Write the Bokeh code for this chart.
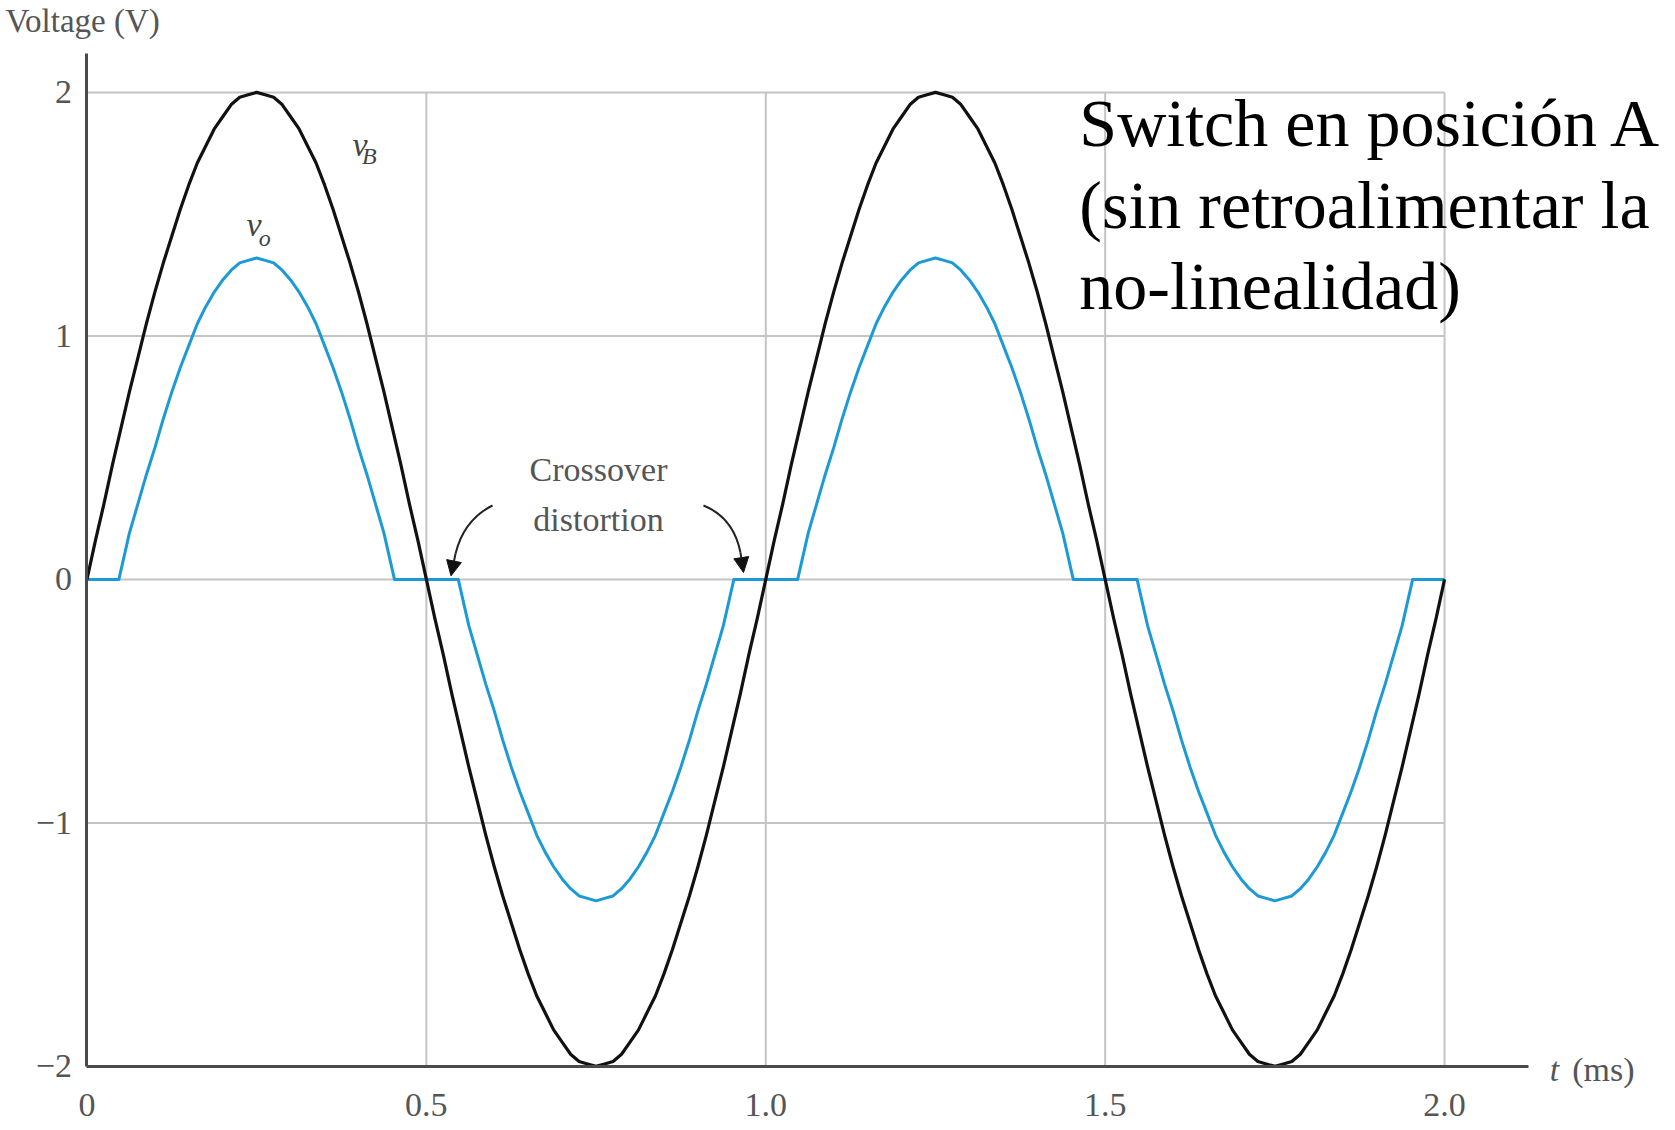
from bokeh.plotting import figure
from bokeh.models import FixedTicker, Label, Arrow, NormalHead
from bokeh.embed import file_html
from bokeh.resources import INLINE

# ---------------- data ----------------
# v_B (black), sampled every 0.0125 ms
t_vb = [0.0, 0.0125, 0.025, 0.0375, 0.05, 0.0625, 0.075, 0.0875, 0.1, 0.1125,
        0.125, 0.1375, 0.15, 0.1625, 0.175, 0.1875, 0.2, 0.2125, 0.225, 0.2375,
        0.25, 0.2625, 0.275, 0.2875, 0.3, 0.3125, 0.325, 0.3375, 0.35, 0.3625,
        0.375, 0.3875, 0.4, 0.4125, 0.425, 0.4375, 0.45, 0.4625, 0.475, 0.4875,
        0.5, 0.5125, 0.525, 0.5375, 0.55, 0.5625, 0.575, 0.5875, 0.6, 0.6125,
        0.625, 0.6375, 0.65, 0.6625, 0.675, 0.6875, 0.7, 0.7125, 0.725, 0.7375,
        0.75, 0.7625, 0.775, 0.7875, 0.8, 0.8125, 0.825, 0.8375, 0.85, 0.8625,
        0.875, 0.8875, 0.9, 0.9125, 0.925, 0.9375, 0.95, 0.9625, 0.975, 0.9875,
        1.0, 1.0125, 1.025, 1.0375, 1.05, 1.0625, 1.075, 1.0875, 1.1, 1.1125,
        1.125, 1.1375, 1.15, 1.1625, 1.175, 1.1875, 1.2, 1.2125, 1.225, 1.2375,
        1.25, 1.2625, 1.275, 1.2875, 1.3, 1.3125, 1.325, 1.3375, 1.35, 1.3625,
        1.375, 1.3875, 1.4, 1.4125, 1.425, 1.4375, 1.45, 1.4625, 1.475, 1.4875,
        1.5, 1.5125, 1.525, 1.5375, 1.55, 1.5625, 1.575, 1.5875, 1.6, 1.6125,
        1.625, 1.6375, 1.65, 1.6625, 1.675, 1.6875, 1.7, 1.7125, 1.725, 1.7375,
        1.75, 1.7625, 1.775, 1.7875, 1.8, 1.8125, 1.825, 1.8375, 1.85, 1.8625,
        1.875, 1.8875, 1.9, 1.9125, 1.925, 1.9375, 1.95, 1.9625, 1.975, 1.9875,
        2.0]
v_b = [0.0, 0.16, 0.31, 0.47, 0.62, 0.77, 0.91, 1.05, 1.18, 1.30,
       1.41, 1.52, 1.62, 1.71, 1.78, 1.85, 1.90, 1.95, 1.98, 1.99,
       2.00, 1.99, 1.98, 1.95, 1.90, 1.85, 1.78, 1.71, 1.62, 1.52,
       1.41, 1.30, 1.18, 1.05, 0.91, 0.77, 0.62, 0.47, 0.31, 0.16,
       0.0, -0.16, -0.31, -0.47, -0.62, -0.77, -0.91, -1.05, -1.18, -1.30,
       -1.41, -1.52, -1.62, -1.71, -1.78, -1.85, -1.90, -1.95, -1.98, -1.99,
       -2.00, -1.99, -1.98, -1.95, -1.90, -1.85, -1.78, -1.71, -1.62, -1.52,
       -1.41, -1.30, -1.18, -1.05, -0.91, -0.77, -0.62, -0.47, -0.31, -0.16,
       0.0, 0.16, 0.31, 0.47, 0.62, 0.77, 0.91, 1.05, 1.18, 1.30,
       1.41, 1.52, 1.62, 1.71, 1.78, 1.85, 1.90, 1.95, 1.98, 1.99,
       2.00, 1.99, 1.98, 1.95, 1.90, 1.85, 1.78, 1.71, 1.62, 1.52,
       1.41, 1.30, 1.18, 1.05, 0.91, 0.77, 0.62, 0.47, 0.31, 0.16,
       0.0, -0.16, -0.31, -0.47, -0.62, -0.77, -0.91, -1.05, -1.18, -1.30,
       -1.41, -1.52, -1.62, -1.71, -1.78, -1.85, -1.90, -1.95, -1.98, -1.99,
       -2.00, -1.99, -1.98, -1.95, -1.90, -1.85, -1.78, -1.71, -1.62, -1.52,
       -1.41, -1.30, -1.18, -1.05, -0.91, -0.77, -0.62, -0.47, -0.31, -0.16,
       0.0]

# v_O (blue), with the flat crossover-distortion zones
t_vo = [0.0,
        0.047, 0.0625, 0.075, 0.0875, 0.1, 0.1125, 0.125, 0.1375, 0.15, 0.1625, 0.175,
        0.1875, 0.2, 0.2125, 0.225, 0.2375, 0.25, 0.2625, 0.275, 0.2875, 0.3, 0.3125,
        0.325, 0.3375, 0.35, 0.3625, 0.375, 0.3875, 0.4, 0.4125, 0.425, 0.4375, 0.453,
        0.547, 0.5625, 0.575, 0.5875, 0.6, 0.6125, 0.625, 0.6375, 0.65, 0.6625, 0.675,
        0.6875, 0.7, 0.7125, 0.725, 0.7375, 0.75, 0.7625, 0.775, 0.7875, 0.8, 0.8125,
        0.825, 0.8375, 0.85, 0.8625, 0.875, 0.8875, 0.9, 0.9125, 0.925, 0.9375, 0.953,
        1.047, 1.0625, 1.075, 1.0875, 1.1, 1.1125, 1.125, 1.1375, 1.15, 1.1625, 1.175,
        1.1875, 1.2, 1.2125, 1.225, 1.2375, 1.25, 1.2625, 1.275, 1.2875, 1.3, 1.3125,
        1.325, 1.3375, 1.35, 1.3625, 1.375, 1.3875, 1.4, 1.4125, 1.425, 1.4375, 1.453,
        1.547, 1.5625, 1.575, 1.5875, 1.6, 1.6125, 1.625, 1.6375, 1.65, 1.6625, 1.675,
        1.6875, 1.7, 1.7125, 1.725, 1.7375, 1.75, 1.7625, 1.775, 1.7875, 1.8, 1.8125,
        1.825, 1.8375, 1.85, 1.8625, 1.875, 1.8875, 1.9, 1.9125, 1.925, 1.9375, 1.953,
        2.0]
v_o = [0.0,
       0.0, 0.19, 0.31, 0.43, 0.54, 0.66, 0.77, 0.87, 0.96, 1.05, 1.12,
       1.18, 1.23, 1.27, 1.30, 1.31, 1.32, 1.31, 1.30, 1.27, 1.23, 1.18,
       1.12, 1.05, 0.96, 0.87, 0.77, 0.66, 0.54, 0.43, 0.31, 0.19, 0.0,
       0.0, -0.19, -0.31, -0.43, -0.54, -0.66, -0.77, -0.87, -0.96, -1.05, -1.12,
       -1.18, -1.23, -1.27, -1.30, -1.31, -1.32, -1.31, -1.30, -1.27, -1.23, -1.18,
       -1.12, -1.05, -0.96, -0.87, -0.77, -0.66, -0.54, -0.43, -0.31, -0.19, 0.0,
       0.0, 0.19, 0.31, 0.43, 0.54, 0.66, 0.77, 0.87, 0.96, 1.05, 1.12,
       1.18, 1.23, 1.27, 1.30, 1.31, 1.32, 1.31, 1.30, 1.27, 1.23, 1.18,
       1.12, 1.05, 0.96, 0.87, 0.77, 0.66, 0.54, 0.43, 0.31, 0.19, 0.0,
       0.0, -0.19, -0.31, -0.43, -0.54, -0.66, -0.77, -0.87, -0.96, -1.05, -1.12,
       -1.18, -1.23, -1.27, -1.30, -1.31, -1.32, -1.31, -1.30, -1.27, -1.23, -1.18,
       -1.12, -1.05, -0.96, -0.87, -0.77, -0.66, -0.54, -0.43, -0.31, -0.19, 0.0,
       0.0]

x_ticks = [0, 0.5, 1.0, 1.5, 2.0]
x_tick_labels = ["0", "0.5", "1.0", "1.5", "2.0"]
y_ticks = [-2, -1, 0, 1, 2]
y_tick_labels = ["\u22122", "\u22121", "0", "1", "2"]

# annotation anchors (data units)
vb_label_pos = (0.391, 1.785)
vb_sub_pos = (0.405, 1.737)
vo_label_pos = (0.235, 1.456)
vo_sub_pos = (0.253, 1.403)
crossover_pos = (0.7536, 0.450, 0.245)
arrow_left = dict(p0=(0.5974, 0.3035), c=(0.5552, 0.2448), p2=(0.5429, 0.1052), tip=(0.5363, 0.0148))
arrow_right = dict(p0=(0.9082, 0.3035), c=(0.9524, 0.2542), p2=(0.9627, 0.1105), tip=(0.9672, 0.0283))
switch_lines = ["Switch en posición A", "(sin retroalimentar la", "no-linealidad)"]
switch_x = 1.462
switch_y = [1.874, 1.537, 1.204]

SERIF = "Liberation Serif"
GRAY = "#555555"

p = figure(width=1672, height=1127,
           x_range=(-0.1274, 2.3358), y_range=(-2.2509, 2.3774),
           min_border=0, min_border_left=0, min_border_right=0,
           min_border_top=0, min_border_bottom=0,
           output_backend="svg", toolbar_location=None)
p.outline_line_color = None
p.xgrid.visible = False
p.ygrid.visible = False
p.background_fill_color = "white"
p.border_fill_color = "white"

# grid lines (only inside the 0..2 ms, -2..2 V box)
gx = x_ticks[1:]
gy = y_ticks[1:]
p.segment(x0=gx, y0=[y_ticks[0]] * len(gx), x1=gx, y1=[y_ticks[-1]] * len(gx),
          line_color="#c4c4c4", line_width=2)
p.segment(x0=[x_ticks[0]] * len(gy), y0=gy, x1=[x_ticks[-1]] * len(gy), y1=gy,
          line_color="#c4c4c4", line_width=2)

# curves
p.line(t_vo, v_o, line_color="#1B9AD6", line_width=3, line_join="round")
p.line(t_vb, v_b, line_color="#111111", line_width=3.2, line_join="round")

# axes drawn at fixed data locations, inside the full-canvas frame
for ax in (p.xaxis[0], p.yaxis[0]):
    ax.axis_line_color = "#4a4a4a"
    ax.axis_line_width = 3
    ax.major_tick_line_color = None
    ax.minor_tick_line_color = None
    ax.major_label_text_font = SERIF
    ax.major_label_text_font_size = "34px"
    ax.major_label_text_color = GRAY

p.xaxis.ticker = FixedTicker(ticks=x_ticks)
p.xaxis.major_label_overrides = dict(zip(x_ticks, x_tick_labels))
p.xaxis.bounds = (0, 2.124)
p.xaxis.fixed_location = y_ticks[0]
p.xaxis.major_label_standoff = 22
p.yaxis.ticker = FixedTicker(ticks=y_ticks)
p.yaxis.major_label_overrides = dict(zip(y_ticks, y_tick_labels))
p.yaxis.bounds = (-2, 2.16)
p.yaxis.fixed_location = x_ticks[0]
p.yaxis.major_label_standoff = 9


def lab(x, y, text, size="34px", color=GRAY, style="normal", align="left"):
    p.add_layout(Label(x=x, y=y, text=text, text_font=SERIF, text_font_size=size,
                       text_color=color, text_font_style=style, text_align=align,
                       text_baseline="alphabetic"))


# axis titles
lab(-0.12, 2.292, "Voltage (V)", size="33px")
lab(2.155, -2.012, "t", style="italic")
lab(2.188, -2.012, "(ms)")

# curve names
lab(vb_label_pos[0], vb_label_pos[1], "v", style="italic", color="#444444")
lab(vb_sub_pos[0], vb_sub_pos[1], "B", size="24px", style="italic", color="#444444")
lab(vo_label_pos[0], vo_label_pos[1], "v", style="italic", color="#444444")
lab(vo_sub_pos[0], vo_sub_pos[1], "o", size="24px", style="italic", color="#444444")

# crossover annotation
lab(crossover_pos[0], crossover_pos[1], "Crossover", align="center")
lab(crossover_pos[0], crossover_pos[2], "distortion", align="center")
for a in (arrow_left, arrow_right):
    p.quadratic(x0=[a["p0"][0]], y0=[a["p0"][1]], x1=[a["p2"][0]], y1=[a["p2"][1]],
                cx=[a["c"][0]], cy=[a["c"][1]], line_color="#222222", line_width=2)
    p.add_layout(Arrow(end=NormalHead(size=15, fill_color="#111111", line_color="#111111"),
                       x_start=a["p2"][0], y_start=a["p2"][1],
                       x_end=a["tip"][0], y_end=a["tip"][1],
                       line_color="#222222", line_width=2))

# big note
for line, yy in zip(switch_lines, switch_y):
    lab(switch_x, yy, line, size="68px", color="#000000")

open("out.html", "w").write(file_html(p, INLINE))
